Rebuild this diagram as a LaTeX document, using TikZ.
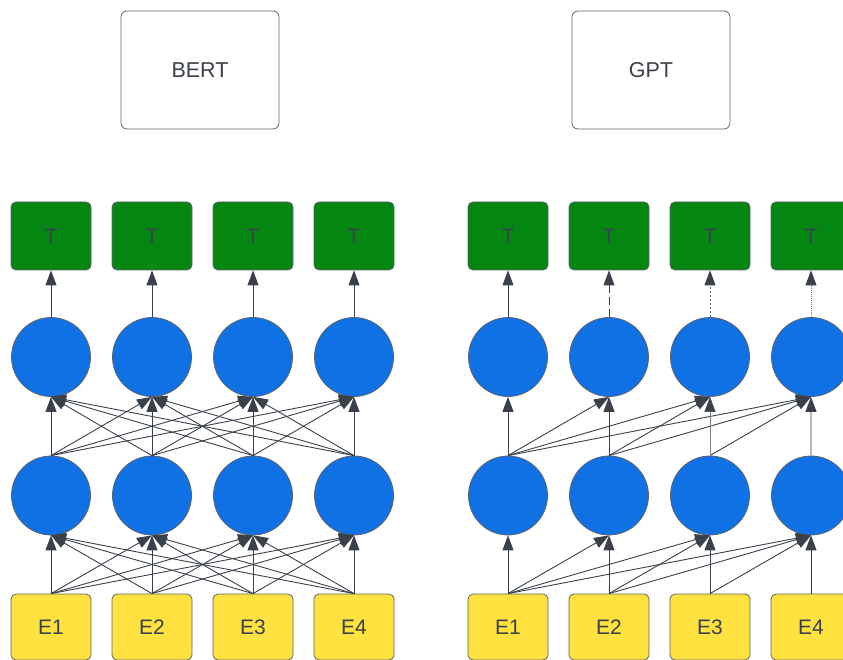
\documentclass[tikz,border=0pt]{standalone}
\usepackage{fontspec}
\setmainfont{Liberation Sans}
\usetikzlibrary{arrows.meta}
\definecolor{ink}{HTML}{3A414A}
\definecolor{edge}{HTML}{5E6269}
\definecolor{tgreen}{HTML}{038712}
\definecolor{cblue}{HTML}{1071E5}
\definecolor{eyellow}{HTML}{FFE23F}
\tikzset{
  titlebox/.style={draw=edge, line width=0.8pt, rounded corners=6pt, minimum width=158pt, minimum height=118pt, inner sep=0pt, text=ink, font=\fontsize{21.5}{24}\selectfont},
  tbox/.style={draw=edge, line width=0.8pt, fill=tgreen, rounded corners=5pt, minimum width=80pt, minimum height=68pt, inner sep=0pt, text=ink, font=\fontsize{21}{24}\selectfont},
  ebox/.style={draw=edge, line width=0.8pt, fill=eyellow, rounded corners=5pt, minimum width=80pt, minimum height=66pt, inner sep=0pt, text=ink, font=\fontsize{21}{24}\selectfont},
  neuron/.style={circle, draw=edge, line width=0.8pt, fill=cblue, minimum size=79pt, inner sep=0pt},
  conn/.style={draw=ink, line width=0.9pt, -{Triangle[length=15pt,width=11pt,color=ink]}},
}
\begin{document}
\begin{tikzpicture}[x=1pt,y=-1pt]
\useasboundingbox (0,0) rectangle (843,660);
\clip (0,0) rectangle (843,660);
\node[titlebox] (bert) at (200,70) {BERT};
\node[titlebox] (gpt) at (651,70) {GPT};
% BERT
\foreach \i/\x in {1/51,2/152,3/253,4/354}{
  \node[tbox] (bt\i) at (\x,236) {T};
  \node[neuron] (bo\i) at (\x,357) {};
  \node[neuron] (bh\i) at (\x,495.5) {};
  \node[ebox] (be\i) at (\x,627) {E\i};
}
% GPT
\foreach \i/\x in {1/508,2/609,3/710,4/811}{
  \node[tbox] (gt\i) at (\x,236) {T};
  \node[neuron] (go\i) at (\x,357) {};
  \node[neuron] (gh\i) at (\x,495.5) {};
  \node[ebox] (ge\i) at (\x,627) {E\i};
}
% BERT connections
\foreach \i in {1,...,4}{
  \foreach \j in {1,...,4}{
    \draw[conn] (be\i.north) -- (bh\j.south);
    \draw[conn] (bh\i.north) -- (bo\j.south);
  }
  \draw[conn] (bo\i.north) -- (bt\i.south);
}
% GPT connections
\foreach \i in {1,...,4}{
  \foreach \j in {\i,...,4}{
    \draw[conn] (ge\i.north) -- (gh\j.south);
  }
}
\foreach \i/\j in {1/1,1/2,1/3,1/4,2/2,2/3,2/4,3/4}{
  \draw[conn] (gh\i.north) -- (go\j.south);
}
\draw[conn, draw=gray, line width=0.6pt] (gh3.north) -- (go3.south);
\draw[conn, draw=gray!55, line width=1.2pt] (gh4.north) -- (go4.south);
\draw[conn] (go1.north) -- (gt1.south);
\draw[conn, dash pattern=on 8pt off 4pt] (go2.north) -- (gt2.south);
\draw[conn, draw=ink!80, dash pattern=on 2.5pt off 1.5pt] (go3.north) -- (gt3.south);
\draw[conn, draw=gray, line width=0.7pt, dash pattern=on 1pt off 1pt] (go4.north) -- (gt4.south);
\end{tikzpicture}
\end{document}
